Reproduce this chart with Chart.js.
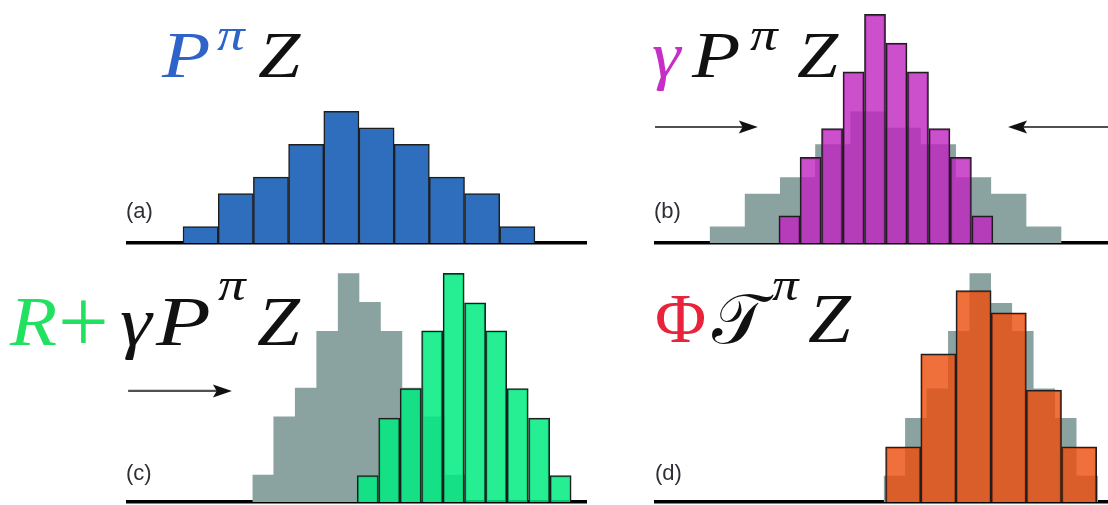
<!DOCTYPE html>
<html>
<head>
<meta charset="utf-8">
<script src="https://cdn.jsdelivr.net/npm/chart.js@4.4.0/dist/chart.umd.min.js"></script>
<style>
  html, body { margin: 0; padding: 0; background: #fff; }
  #stage { position: relative; width: 1108px; height: 505px; overflow: hidden; }
  .panel { position: absolute; }
  .m { position: absolute; font-family: 'Liberation Serif', 'Times New Roman', serif; font-style: italic; line-height: 1; white-space: nowrap; color: #111; transform-origin: left center; }
  .up { font-style: normal; }
  .tag { position: absolute; font-family: 'Liberation Sans', Arial, sans-serif; font-size: 22px; line-height: 1; color: #2e2e36; }
</style>
</head>
<body>
<div id="stage">
  <div class="panel" style="left:126px;top:0;width:461px;height:247px"><canvas id="pa"></canvas></div>
  <div class="panel" style="left:654px;top:0;width:454px;height:247px"><canvas id="pb"></canvas></div>
  <div class="panel" style="left:126px;top:259px;width:461px;height:247px"><canvas id="pc"></canvas></div>
  <div class="panel" style="left:654px;top:259px;width:454px;height:247px"><canvas id="pd"></canvas></div>

  <!-- (a) P^pi Z -->
  <span class="m" style="left:162px;top:22px;font-size:66px;color:#2e63c9;transform:scaleX(1.2)">P</span>
  <span class="m" style="left:217px;top:12px;font-size:46px;color:#2e63c9;transform:scaleX(1.2)">π</span>
  <span class="m" style="left:258px;top:22px;font-size:66px;transform:scaleX(1.15)">Z</span>

  <!-- (b) gamma P^pi Z -->
  <span class="m" style="left:652px;top:22px;font-size:66px;color:#c62ec6;transform:scaleX(1.1)">γ</span>
  <span class="m" style="left:692px;top:22px;font-size:66px;transform:scaleX(1.2)">P</span>
  <span class="m" style="left:750px;top:12px;font-size:46px;transform:scaleX(1.2)">π</span>
  <span class="m" style="left:797px;top:22px;font-size:66px;transform:scaleX(1.12)">Z</span>

  <!-- (c) R + gamma P^pi Z -->
  <span class="m" style="left:10px;top:287px;font-size:70px;color:#22e060;transform:scaleX(1.1)">R</span>
  <span class="m up" style="left:58px;top:277px;font-size:90px;color:#22e060">+</span>
  <span class="m" style="left:120px;top:287px;font-size:70px;transform:scaleX(1.15)">γ</span>
  <span class="m" style="left:156px;top:287px;font-size:70px;transform:scaleX(1.28)">P</span>
  <span class="m" style="left:218px;top:262px;font-size:46px;transform:scaleX(1.2)">π</span>
  <span class="m" style="left:257px;top:287px;font-size:70px;transform:scaleX(1.1)">Z</span>

  <!-- (d) Phi T^pi Z -->
  <span class="m up" style="left:655px;top:284px;font-size:70px;color:#e8243c">Φ</span>
  <span class="m up" style="left:712px;top:284px;font-size:70px;font-family:'DejaVu Serif','DejaVu Sans',serif">𝒯</span>
  <span class="m" style="left:772px;top:262px;font-size:46px;transform:scaleX(1.15)">π</span>
  <span class="m" style="left:808px;top:284px;font-size:70px;transform:scaleX(1.1)">Z</span>

  <span class="tag" style="left:126px;top:200px">(a)</span>
  <span class="tag" style="left:654px;top:200px">(b)</span>
  <span class="tag" style="left:126px;top:462px">(c)</span>
  <span class="tag" style="left:655px;top:462px">(d)</span>
</div>

<script>
// atoms = bin centres, one unit = one bin of the original support
const atomsZ = [0, 1, 2, 3, 4, 5, 6, 7, 8, 9];
const probZ = [1, 3, 4, 6, 8, 7, 6, 4, 3, 1];

// gamma-contracted distribution (b), reused as the backdrop of (c)
const atomsGammaZ = [1.77, 2.37, 2.98, 3.59, 4.2, 4.81, 5.42, 6.03, 6.64, 7.25];
const probGammaZ = [1.65, 5.2, 6.95, 10.4, 13.9, 12.15, 10.4, 6.95, 5.2, 1.65];

// shifted by the reward (c), backdrop of (d)
const atomsTarget = [4.75, 5.36, 5.97, 6.58, 7.19, 7.8, 8.4, 9.01, 9.62, 10.23];
const probTarget = [1.6, 5.1, 6.9, 10.4, 13.9, 12.1, 10.4, 6.9, 5.1, 1.6];

// projected back onto the support (d)
const atomsProj = [5, 6, 7, 8, 9, 10];
const probProj = [3.35, 9.0, 12.85, 11.5, 6.8, 3.35];

const Y_MAX = 14.77;
const LEFT_COL = { min: -2.12, max: 10.98 };
const RIGHT_COL = { min: -2.08, max: 10.82 };
const GREY = '#8aa3a0';

// histogram outline as a stepped line (no seams between bins)
function steps(atoms, probs) {
  const w = atoms[1] - atoms[0];
  const pts = atoms.map((a, i) => ({ x: a - w / 2, y: probs[i] }));
  pts.push({ x: atoms[atoms.length - 1] + w / 2, y: probs[probs.length - 1] });
  return pts;
}

const arrowPlugin = {
  id: 'arrows',
  afterDatasetsDraw(chart, args, opts) {
    const { ctx, scales: { x, y } } = chart;
    (opts.list || []).forEach(a => {
      const x0 = x.getPixelForValue(a.from);
      const x1 = x.getPixelForValue(a.to);
      const py = y.getPixelForValue(a.level);
      const dir = Math.sign(x1 - x0);
      const head = 19;
      ctx.save();
      ctx.strokeStyle = '#505050';
      ctx.lineWidth = 2.2;
      ctx.beginPath();
      ctx.moveTo(x0, py);
      ctx.lineTo(x1 - dir * head * 0.7, py);
      ctx.stroke();
      ctx.fillStyle = '#111';
      ctx.beginPath();
      ctx.moveTo(x1, py);
      ctx.lineTo(x1 - dir * head, py - 6.5);
      ctx.lineTo(x1 - dir * head * 0.8, py);
      ctx.lineTo(x1 - dir * head, py + 6.5);
      ctx.closePath();
      ctx.fill();
      ctx.restore();
    });
  }
};

function histogram(id, col, bars, backdrop, arrows) {
  const datasets = [{
    type: 'bar',
    data: bars.atoms.map((x, i) => ({ x: x, y: bars.probs[i] })),
    backgroundColor: bars.color,
    borderColor: '#1e1e1e',
    borderWidth: 1.5,
    barPercentage: 1,
    categoryPercentage: 1,
    order: 1
  }];
  if (backdrop) {
    datasets.push({
      type: 'line',
      data: steps(backdrop.atoms, backdrop.probs),
      stepped: true,
      fill: 'origin',
      backgroundColor: GREY,
      borderColor: 'rgba(0,0,0,0)',
      borderWidth: 0,
      pointRadius: 0,
      order: 2
    });
  }
  return new Chart(document.getElementById(id), {
    type: 'bar',
    data: { datasets: datasets },
    options: {
      responsive: true,
      maintainAspectRatio: false,
      animation: false,
      layout: { padding: { bottom: 4 } },
      plugins: {
        legend: { display: false },
        tooltip: { enabled: false },
        arrows: { list: arrows || [] }
      },
      scales: {
        x: {
          type: 'linear',
          min: col.min,
          max: col.max,
          offset: false,
          grid: { display: false, drawTicks: false },
          ticks: { display: false },
          border: { display: true, color: '#000', width: 3.5 },
          afterBuildTicks: axis => { axis.ticks = []; }
        },
        y: { min: 0, max: Y_MAX, display: false }
      }
    },
    plugins: [arrowPlugin]
  });
}

histogram('pa', LEFT_COL,
  { atoms: atomsZ, probs: probZ, color: '#2f6ebd' });

histogram('pb', RIGHT_COL,
  { atoms: atomsGammaZ, probs: probGammaZ, color: 'rgba(191,35,191,0.8)' },
  { atoms: atomsZ, probs: probZ },
  [{ from: -2.05, to: 0.87, level: 7.05 }, { from: RIGHT_COL.max, to: 7.98, level: 7.05 }]);

histogram('pc', LEFT_COL,
  { atoms: atomsTarget, probs: probTarget, color: 'rgba(0,235,128,0.85)' },
  { atoms: atomsGammaZ, probs: probGammaZ },
  [{ from: -2.06, to: 0.89, level: 6.75 }]);

histogram('pd', RIGHT_COL,
  { atoms: atomsProj, probs: probProj, color: 'rgba(236,76,11,0.8)' },
  { atoms: atomsTarget, probs: probTarget });
</script>
</body>
</html>
